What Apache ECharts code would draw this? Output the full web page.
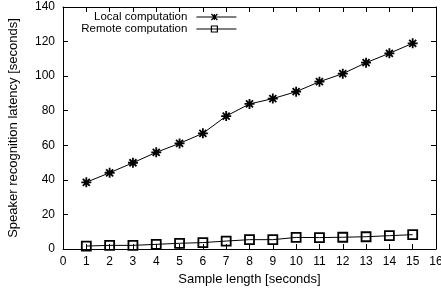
<!DOCTYPE html>
<html>
<head>
<meta charset="utf-8">
<script src="https://cdn.jsdelivr.net/npm/echarts@6/dist/echarts.min.js"></script>
<style>
  html, body { margin: 0; padding: 0; background: #fff; }
  #chart { width: 441px; height: 288px; }
</style>
</head>
<body>
<div id="chart"></div>
<script>
// sample length in seconds
var lengths = [1, 2, 3, 4, 5, 6, 7, 8, 9, 10, 11, 12, 13, 14, 15]
var localTimes = [38.6, 44.1, 49.9, 55.9, 61.1, 66.9, 76.9, 83.9, 87, 91, 96.8, 101.4, 107.8, 113.2, 119]
var remoteTimes = [1.7, 2.1, 2.1, 2.7, 3.3, 3.7, 4.6, 5.4, 5.4, 6.7, 6.6, 6.8, 7.1, 7.7, 8.3]
var seriesNames = ['Local computation', 'Remote computation']

function pairs(ys) {
  return lengths.map(function (x, i) { return [x, ys[i]] })
}

var font = 'Liberation Sans, Arial, sans-serif'
var star = 'path://M0,5L10,5M5,0L5,10M1.5,1.5L8.5,8.5M1.5,8.5L8.5,1.5'
// legend samples: line with a small marker in it (both 40 x 6)
var starKey = 'path://M0,5L40,5M15,5L21,5M18,2L18,8M15,2L21,8M15,8L21,2'
var boxKey = 'path://M0,5L40,5M15,2L21,2L21,8L15,8Z'

var myChart = echarts.init(document.getElementById('chart'))

var tickStyle = { show: true, inside: true, length: 5, lineStyle: { color: '#000', width: 1 } }
// onZero off so the mirror axes stay on the frame edges
var lineStyle = { show: true, onZero: false, lineStyle: { color: '#000', width: 1 } }

var option = {
  animation: false,
  // keep the frame where it is, the "16" label may run off the edge
  grid: { left: 63, right: 5, top: 7, bottom: 39, outerBoundsMode: 'none' },
  legend: {
    orient: 'vertical',
    right: 204,
    top: 11,
    padding: 0,
    align: 'right',
    itemWidth: 40,
    itemHeight: 6,
    itemGap: 0,
    itemStyle: { color: 'transparent', borderColor: '#000', borderWidth: 1.2 },
    textStyle: { fontFamily: font, fontSize: 11.5, lineHeight: 12, color: '#000', padding: [0, 4, 0, 0] },
    data: [
      { name: seriesNames[0], icon: starKey },
      { name: seriesNames[1], icon: boxKey }
    ]
  },
  xAxis: [
    {
      type: 'value',
      min: 0,
      max: 16,
      interval: 1,
      name: 'Sample length [seconds]',
      nameLocation: 'middle',
      nameGap: 21,
      nameTextStyle: { fontFamily: font, fontSize: 13, color: '#000' },
      axisLine: lineStyle,
      axisTick: tickStyle,
      axisLabel: { fontFamily: font, fontSize: 12, color: '#000', margin: 7 },
      splitLine: { show: false }
    },
    {
      type: 'value',
      position: 'top',
      min: 0,
      max: 16,
      interval: 1,
      axisLine: lineStyle,
      axisTick: tickStyle,
      axisLabel: { show: false },
      splitLine: { show: false }
    }
  ],
  yAxis: [
    {
      type: 'value',
      min: 0,
      max: 140,
      interval: 20,
      name: 'Speaker recognition latency [seconds]',
      nameLocation: 'middle',
      nameGap: 43,
      nameTextStyle: { fontFamily: font, fontSize: 13, color: '#000' },
      axisLine: lineStyle,
      axisTick: tickStyle,
      axisLabel: { fontFamily: font, fontSize: 12, color: '#000', margin: 8 },
      splitLine: { show: false }
    },
    {
      type: 'value',
      position: 'right',
      min: 0,
      max: 140,
      interval: 20,
      axisLine: lineStyle,
      axisTick: tickStyle,
      axisLabel: { show: false },
      splitLine: { show: false }
    }
  ],
  series: [
    {
      name: seriesNames[0],
      type: 'line',
      data: pairs(localTimes),
      symbol: star,
      symbolSize: 10,
      lineStyle: { color: '#000', width: 1 },
      itemStyle: { color: 'transparent', borderColor: '#000', borderWidth: 1.8 }
    },
    {
      name: seriesNames[1],
      type: 'line',
      data: pairs(remoteTimes),
      symbol: 'rect',
      symbolSize: 9,
      lineStyle: { color: '#000', width: 1 },
      itemStyle: { color: 'transparent', borderColor: '#000', borderWidth: 1.8 }
    }
  ]
}

myChart.setOption(option)
</script>
</body>
</html>
